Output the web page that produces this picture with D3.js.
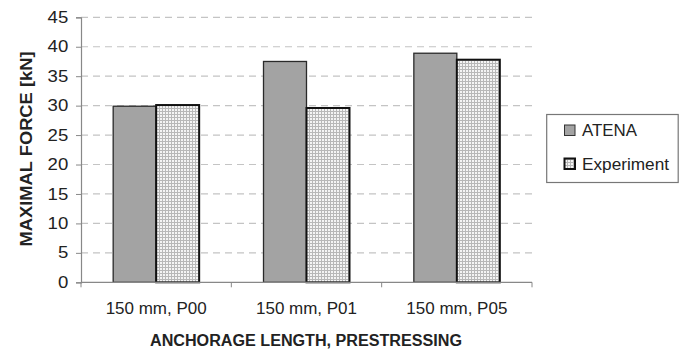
<!DOCTYPE html>
<html><head><meta charset="utf-8">
<script src="https://cdn.jsdelivr.net/npm/d3@7"></script>
<style>body{margin:0;background:#fff;} svg{display:block;font-family:Arial,"Liberation Sans",sans-serif;}</style>
</head><body><svg id="c" width="679" height="351"></svg>
<script>
const categories = ["150 mm, P00", "150 mm, P01", "150 mm, P05"];
const seriesNames = ["ATENA", "Experiment"];
const atena = [29.9, 37.5, 38.9];
const experiment = [30.1, 29.6, 37.8];
const yTicks = [0, 5, 10, 15, 20, 25, 30, 35, 40, 45];

const FONT = "Arial,'Liberation Sans',sans-serif";
const svg = d3.select("#c");
const defs = svg.append("defs");
const pat = defs.append("pattern").attr("id","grid").attr("patternUnits","userSpaceOnUse")
  .attr("width",3).attr("height",3);
pat.append("rect").attr("width",3).attr("height",3).attr("fill","#f4f4f4");
pat.append("rect").attr("x",0).attr("y",0).attr("width",1).attr("height",3).attr("fill","#b8b8b8");
pat.append("rect").attr("x",0).attr("y",0).attr("width",3).attr("height",1).attr("fill","#b8b8b8");

const L = 81, R = 532, T = 17.3, B = 282.3;
const x = d3.scaleBand().domain(categories).range([L, R]).paddingInner(0.428).paddingOuter(0.214);
const x1 = d3.scaleBand().domain(seriesNames).range([0, x.bandwidth()]);
const y = d3.scaleLinear().domain([0, 45]).range([B, T]);

// gridlines
svg.append("g").selectAll("line").data(yTicks.filter(d => d > 0)).join("line")
  .attr("x1", L).attr("x2", R).attr("y1", d => y(d)).attr("y2", d => y(d))
  .attr("stroke", "#c4c4c4").attr("stroke-width", 1.2).attr("stroke-dasharray", "7,5");

// bars
const data = categories.map((c, i) => ({c, vals: [atena[i], experiment[i]]}));
const g = svg.append("g");
data.forEach(d => {
  d.vals.forEach((v, j) => {
    g.append("rect")
      .attr("x", x(d.c) + x1(seriesNames[j]))
      .attr("y", y(v))
      .attr("width", x1.bandwidth())
      .attr("height", B - y(v))
      .attr("fill", j === 0 ? "#a3a3a3" : "url(#grid)")
      .attr("stroke", j === 0 ? "#2a2a2a" : "#111")
      .attr("stroke-width", j === 0 ? 1.3 : 2);
  });
});

// y axis
const ya = svg.append("g").attr("transform", `translate(${L},0)`)
  .call(d3.axisLeft(y).tickValues(yTicks).tickSize(5).tickPadding(6));
ya.select(".domain").attr("stroke", "#888").attr("stroke-width",1.2);
ya.selectAll(".tick line").attr("stroke", "#888");
ya.selectAll("text").attr("font-size", 16).attr("fill", "#222").attr("font-family", FONT)
  .attr("x", -11).attr("transform", "scale(1.16,1)");

// x axis
const xa = svg.append("g").attr("transform", `translate(0,${B})`);
xa.append("line").attr("x1", L).attr("x2", R).attr("stroke", "#888").attr("stroke-width",1.2);
const bounds = [L, ...categories.map(c => x(c) + x.bandwidth() + x.step()*x.paddingInner()/2)];
xa.selectAll("line.t").data(bounds).join("line").attr("class","t")
  .attr("x1", d => d).attr("x2", d => d).attr("y1", 0).attr("y2", 5).attr("stroke", "#888");
xa.selectAll("text").data(categories).join("text")
  .attr("x", d => x(d) + x.bandwidth()/2).attr("y", 31.3)
  .attr("text-anchor","middle").attr("font-size", 16).attr("fill","#222")
  .attr("textLength", 101).attr("lengthAdjust","spacingAndGlyphs").text(d => d);

// titles
svg.append("text").attr("transform", "translate(32,149) rotate(-90)")
  .attr("text-anchor","middle").attr("font-weight","bold").attr("font-size",17).attr("fill","#222")
  .attr("textLength", 195).attr("lengthAdjust","spacingAndGlyphs")
  .text("MAXIMAL FORCE [kN]");
svg.append("text").attr("x", 306).attr("y", 346.3)
  .attr("text-anchor","middle").attr("font-weight","bold").attr("font-size",16).attr("fill","#222")
  .attr("textLength", 312).attr("lengthAdjust","spacingAndGlyphs")
  .text("ANCHORAGE LENGTH, PRESTRESSING");

// legend
const lg = svg.append("g");
lg.append("rect").attr("x", 546.7).attr("y", 114.5).attr("width", 131.5).attr("height", 68)
  .attr("fill","#fff").attr("stroke","#777").attr("stroke-width",1.2);
const legLen = [55, 87];
seriesNames.forEach((s, i) => {
  const yy = 130.5 + i * 33.5;
  lg.append("rect").attr("x", 564.5).attr("y", yy - 5.5).attr("width", 10.5).attr("height", 10.5)
    .attr("fill", i === 0 ? "#a3a3a3" : "url(#grid)").attr("stroke", i===0?"#333":"#111").attr("stroke-width", i===0?1:2);
  lg.append("text").attr("x", 582).attr("y", yy + 5.8).attr("font-size", 16.5).attr("fill","#222")
    .attr("textLength", legLen[i]).attr("lengthAdjust","spacingAndGlyphs").text(s);
});
</script></body></html>
